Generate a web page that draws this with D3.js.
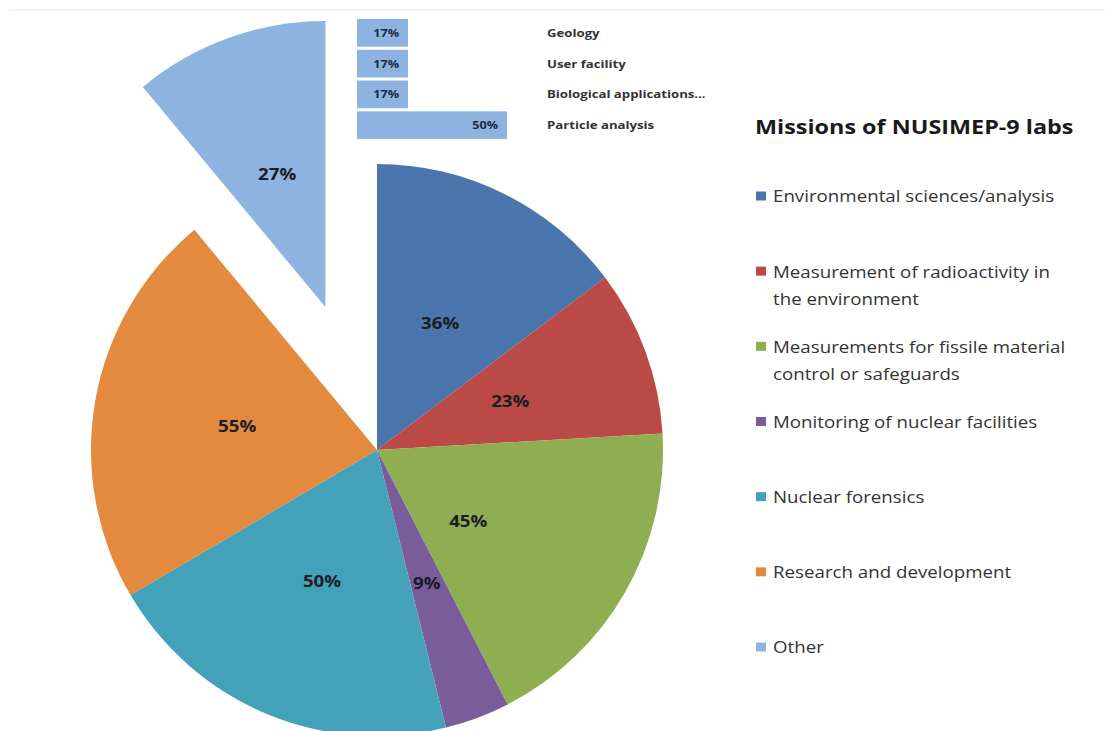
<!DOCTYPE html>
<html>
<head>
<meta charset="utf-8">
<script src="https://cdn.jsdelivr.net/npm/d3@7/dist/d3.min.js"></script>
<style>
  html, body { margin: 0; padding: 0; background: #ffffff; }
  svg { display: block; }
  text { font-family: "Open Sans", "Liberation Sans", sans-serif; }
</style>
</head>
<body>
<svg id="chart" width="1105" height="731"></svg>
<script>
// ---- data ----
const categories = [
  "Environmental sciences/analysis",
  "Measurement of radioactivity in the environment",
  "Measurements for fissile material control or safeguards",
  "Monitoring of nuclear facilities",
  "Nuclear forensics",
  "Research and development",
  "Other"
];
const legendLines = [
  ["Environmental sciences/analysis"],
  ["Measurement of radioactivity in", "the environment"],
  ["Measurements for fissile material", "control or safeguards"],
  ["Monitoring of nuclear facilities"],
  ["Nuclear forensics"],
  ["Research and development"],
  ["Other"]
];
const values = [36, 23, 45, 9, 50, 55, 27];
const otherCategories = ["Geology", "User facility", "Biological applications...", "Particle analysis"];
const otherValues = [17, 17, 17, 50];
const title = "Missions of NUSIMEP-9 labs";

// ---- style ----
const colors = ["#4a76ad", "#bb4a46", "#8fae52", "#7a5c9d", "#44a1ba", "#e48a3e", "#8db3e1"];
const labelNudgeX = [0, 0, -32, 0, 0, 0, 0];
const cx = 377, cy = 450, R = 286, explode = 152, labelR = 142;
const stretch = 1.17;

const svg = d3.select("#chart");

// faint top border
svg.append("line").attr("x1", 10).attr("x2", 1105).attr("y1", 10).attr("y2", 10)
  .attr("stroke", "#f2f2f2").attr("stroke-width", 2);

// ---- pie ----
const pie = d3.pie().sort(null).value(d => d);
const arcs = pie(values);
const arc = d3.arc().innerRadius(0).outerRadius(R);
const labelArc = d3.arc().innerRadius(labelR).outerRadius(labelR);

const g = svg.append("g").attr("transform", `translate(${cx},${cy})`);
const slices = g.selectAll("g.slice").data(arcs).join("g")
  .attr("class", "slice")
  .attr("transform", (d, i) => {
    if (i !== values.length - 1) return null;
    const mid = (d.startAngle + d.endAngle) / 2;
    return `translate(${explode * Math.sin(mid)},${-explode * Math.cos(mid)})`;
  });
slices.append("path").attr("d", arc).attr("fill", (d, i) => colors[i]);
slices.append("text")
  .attr("transform", (d, i) => {
    const c = labelArc.centroid(d);
    return `translate(${c[0] + labelNudgeX[i]},${c[1]}) scale(${stretch},1)`;
  })
  .attr("text-anchor", "middle").attr("dominant-baseline", "central")
  .attr("font-size", 16).attr("font-weight", "bold").attr("fill", "#1c1c24")
  .text(d => d.data + "%");

// ---- bar of "Other" ----
const x = d3.scaleLinear().domain([0, 100]).range([357, 657]);
const y = d3.scaleBand().domain(otherCategories).range([19, 139]).paddingInner(0.1).paddingOuter(0);
const bars = svg.append("g");
bars.selectAll("rect").data(otherValues).join("rect")
  .attr("x", x(0)).attr("y", (d, i) => y(otherCategories[i]))
  .attr("width", d => x(d) - x(0)).attr("height", y.bandwidth())
  .attr("fill", colors[6]);
bars.selectAll("text.val").data(otherValues).join("text").attr("class", "val")
  .attr("transform", (d, i) => `translate(${x(d) - 9},${y(otherCategories[i]) + y.bandwidth() / 2}) scale(1.2,1)`)
  .attr("text-anchor", "end").attr("dominant-baseline", "central")
  .attr("font-size", 10.5).attr("font-weight", "bold").attr("fill", "#1c2a40")
  .text(d => d + "%");
bars.selectAll("text.cat").data(otherCategories).join("text").attr("class", "cat")
  .attr("transform", d => `translate(547,${y(d) + y.bandwidth() / 2}) scale(1.2,1)`)
  .attr("dominant-baseline", "central")
  .attr("font-size", 11).attr("font-weight", "bold").attr("fill", "#333")
  .text(d => d);

// ---- title & legend ----
svg.append("text").attr("transform", `translate(755,126) scale(${stretch},1)`)
  .attr("dominant-baseline", "central")
  .attr("font-size", 20).attr("font-weight", "bold").attr("fill", "#1a1a1a")
  .text(title);

const ly = d3.scaleLinear().domain([0, categories.length - 1]).range([196, 647]);
const leg = svg.append("g").selectAll("g").data(categories).join("g")
  .attr("transform", (d, i) => `translate(756,${ly(i)})`);
leg.append("rect").attr("x", 0).attr("y", -4.5).attr("width", 10).attr("height", 9)
  .attr("fill", (d, i) => colors[i]);
leg.each(function(d, i) {
  const t = d3.select(this);
  legendLines[i].forEach((line, j) => {
    t.append("text").attr("transform", `translate(17,${j * 27}) scale(${stretch},1)`)
      .attr("dominant-baseline", "central")
      .attr("font-size", 16).attr("fill", "#333")
      .text(line);
  });
});
</script>
</body>
</html>
